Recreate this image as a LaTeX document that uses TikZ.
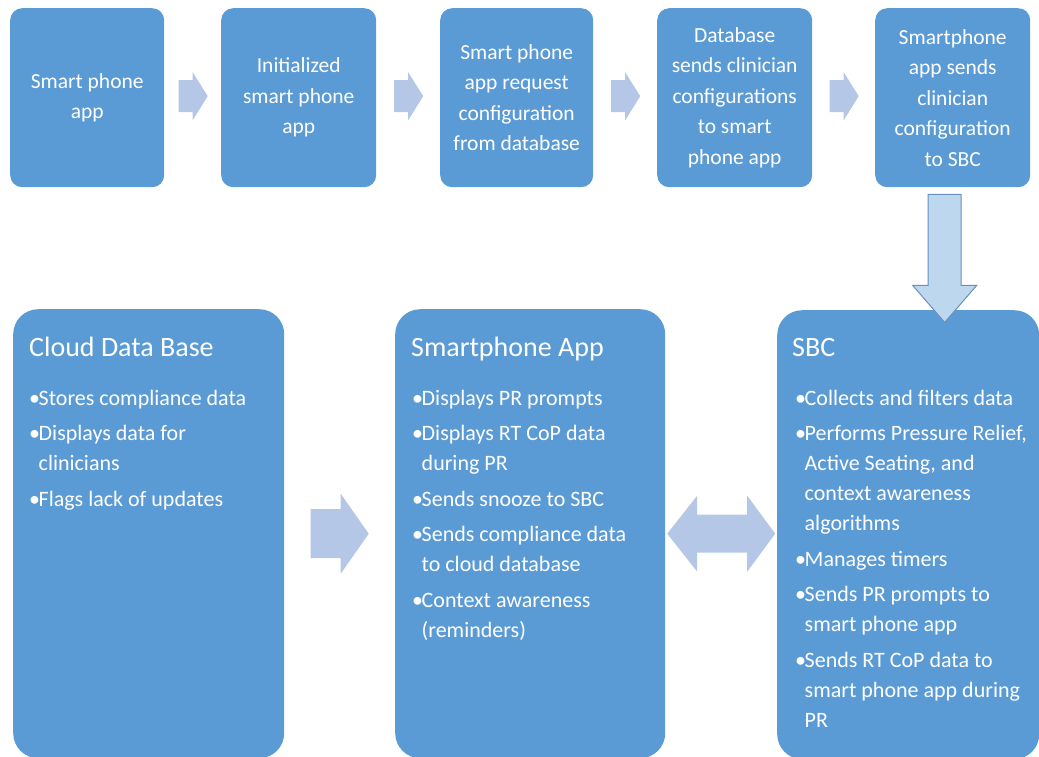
\documentclass[tikz,border=0pt]{standalone}
\usepackage{fontspec}
\setmainfont{Carlito}
\usetikzlibrary{calc}
\definecolor{boxblue}{HTML}{5B9BD5}
\definecolor{arrowblue}{HTML}{B4C7E7}
\definecolor{downfill}{HTML}{BDD7EE}
\definecolor{downline}{HTML}{6A8FBF}
\newlength{\bw}\setlength{\bw}{9.5pt}
\newcommand{\bitem}{\makebox[\bw][l]{•}}
\newcommand{\cont}{\hspace*{\bw}}
\newcommand{\titlefont}{\fontsize{28}{34}\selectfont}
\newcommand{\listfont}{\fontsize{22}{30}\selectfont}
\begin{document}
\begin{tikzpicture}[x=1pt,y=-1pt,
  topbox/.style={fill=boxblue, draw=none, rounded corners=12pt, minimum height=179pt, inner sep=0pt, anchor=north west},
  bigbox/.style={fill=boxblue, draw=none, rounded corners=25pt, minimum height=449pt, inner sep=0pt, anchor=north west},
  toptext/.style={text=white, align=center, inner sep=0pt, font=\fontsize{21.5}{30.5}\selectfont},
  titletext/.style={text=white, anchor=base west, inner sep=0pt, font=\titlefont},
  listtext/.style={text=white, anchor=base west, inner sep=0pt},
  rarrow/.pic={\fill[arrowblue] (-14,-16) -- (0,-16) -- (0,-24) -- (15,0) -- (0,24) -- (0,16) -- (-14,16) -- cycle;},
  bigrarrow/.pic={\fill[arrowblue] (-29,-24.5) -- (1,-24.5) -- (1,-40) -- (29,0) -- (1,40) -- (1,24.5) -- (-29,24.5) -- cycle;},
  dblarrow/.pic={\fill[arrowblue] (-54,0) -- (-24,-38) -- (-24,-19) -- (26,-19) -- (26,-38) -- (54,0) -- (26,38) -- (26,19) -- (-24,19) -- (-24,38) -- cycle;},
  downarrow/.pic={\filldraw[fill=downfill, draw=downline, line width=1pt, line join=miter] (-16.5,7) -- (16.5,7) -- (16.5,98) -- (32,98) -- (0,135) -- (-32,98) -- (-16.5,98) -- cycle;}
]
\useasboundingbox (0,0) rectangle (1039,756);

% top row
\node[topbox, minimum width=154pt] (b1) at (10,8) {};
\node[topbox, minimum width=155pt] (b2) at (221,8) {};
\node[topbox, minimum width=153pt] (b3) at (440,8) {};
\node[topbox, minimum width=155pt] (b4) at (657,8) {};
\node[topbox, minimum width=155pt] (b5) at (875,8) {};

\node[toptext] (t1) at (b1.center) {Smart phone\\app};
\node[toptext] (t2) at (b2.center) {Initialized\\smart phone\\app};
\node[toptext] (t3) at (b3.center) {Smart phone\\app request\\configuration\\from database};
\node[toptext] (t4) at (b4.center) {Database\\sends clinician\\configurations\\to smart\\phone app};
\node[toptext] (t5) at (b5.center) {Smartphone\\app sends\\clinician\\configuration\\to SBC};

\coordinate (m12) at ($(b1.east)!0.5!(b2.west)+(0,-1.5)$);
\coordinate (m23) at ($(b2.east)!0.5!(b3.west)+(0,-1.5)$);
\coordinate (m34) at ($(b3.east)!0.5!(b4.west)+(0,-1.5)$);
\coordinate (m45) at ($(b4.east)!0.5!(b5.west)+(0,-1.5)$);
\pic at (m12) {rarrow};
\pic at (m23) {rarrow};
\pic at (m34) {rarrow};
\pic at (m45) {rarrow};

% bottom row
\node[bigbox, minimum width=271pt] (cloud) at (13,309) {};
\node[bigbox, minimum width=270pt] (app) at (395,309) {};
\node[bigbox, minimum width=262pt] (sbc) at (777,310) {};

\coordinate (d5) at ($(b5.south)+(-8,0)$);
\pic at (d5) {downarrow};

\coordinate (mca) at ($(cloud.east)!0.5!(app.west)$);
\pic at (mca) {bigrarrow};
\coordinate (mas) at ($(app.east)!0.5!(sbc.west)+(0,-0.5)$);
\pic at (mas) {dblarrow};

% texts
\node[titletext] (cloudT) at ($(cloud.north west)+(16,47)$) {Cloud Data Base};
\node[listtext] (cloudL) at ($(cloud.north west)+(16,96)$) {\parbox[t]{255pt}{\raggedright\listfont
\bitem Stores compliance data\\[5.5pt]
\bitem Displays data for\\
\cont clinicians\\[5.5pt]
\bitem Flags lack of updates}};

\node[titletext] (appT) at ($(app.north west)+(16,47)$) {Smartphone App};
\node[listtext] (appL) at ($(app.north west)+(17,96)$) {\parbox[t]{250pt}{\raggedright\listfont
\bitem Displays PR prompts\\[5.5pt]
\bitem Displays RT CoP data\\
\cont during PR\\[5.5pt]
\bitem Sends snooze to SBC\\[5.5pt]
\bitem Sends compliance data\\
\cont to cloud database\\[5.5pt]
\bitem Context awareness\\
\cont (reminders)}};

\node[titletext] (sbcT) at ($(sbc.north west)+(15,46)$) {SBC};
\node[listtext] (sbcL) at ($(sbc.north west)+(18,95)$) {\parbox[t]{250pt}{\raggedright\listfont
\bitem Collects and filters data\\[5.5pt]
\bitem Performs Pressure Relief,\\
\cont Active Seating, and\\
\cont context awareness\\
\cont algorithms\\[5.5pt]
\bitem Manages timers\\[5.5pt]
\bitem Sends PR prompts to\\
\cont smart phone app\\[5.5pt]
\bitem Sends RT CoP data to\\
\cont smart phone app during\\
\cont PR}};
\end{tikzpicture}
\end{document}
